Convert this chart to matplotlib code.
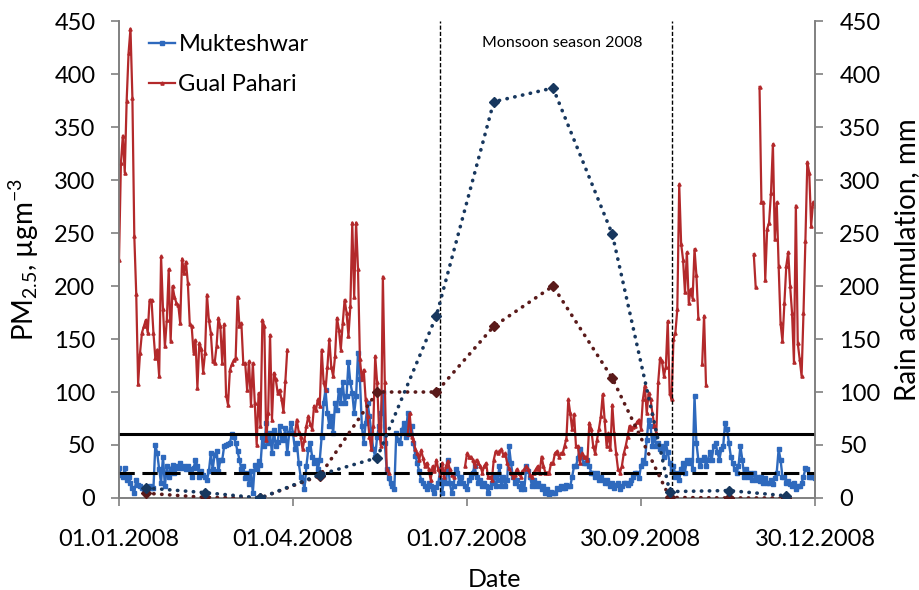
import numpy as np
import pandas as pd
import matplotlib
matplotlib.use("Agg")
import matplotlib.pyplot as plt

nan = np.nan

# daily PM2.5, 01.01.2008 .. 30.12.2008
mukteshwar = [
    28, 22, 20, 28, 17, 20, 14, 9, 5, 17,
    12, 11, 9, 8, 9, 9, 11, 9, 9, 50,
    42, 27, 14, 39, 11, 30, 20, 27, 31, 24,
    30, 28, 33, 28, 30, 27, 30, 27, 20, 28,
    36, 30, 20, 25, 22, 20, 17, 25, 42, 27,
    41, 44, 25, 36, 36, 49, 50, 51, 52, 60,
    58, 52, 44, 36, 27, 30, 19, 24, 13, 25,
    5, 31, 27, 35, 31, 58, 49, 71, 52, 61,
    42, 64, 49, 53, 68, 58, 55, 66, 42, 61,
    71, 61, 46, 52, 33, 20, 17, 8, 30, 46,
    52, 39, 33, 36, 27, 36, 58, 90, 102, 80,
    68, 77, 61, 90, 83, 102, 90, 109, 90, 96,
    128, 109, 99, 80, 96, 137, 112, 68, 52, 71,
    90, 77, 61, 46, 39, 58, 68, 80, 100, 52,
    27, 19, 14, 11, 8, 61, 55, 52, 64, 71,
    58, 80, 60, 68, 52, 40, 33, 25, 17, 14,
    11, 8, 14, 11, 8, 5, 10, 14, 27, 5,
    17, 14, 36, 14, 5, 11, 27, 24, 14, 20,
    14, 11, 8, 17, 20, 24, 30, 20, 14, 17,
    11, 14, 11, 5, 10, 14, 20, 11, 17, 30,
    11, 20, 11, 17, 49, 33, 20, 14, 17, 11,
    8, 14, 8, 30, 25, 20, 11, 17, 11, 14,
    11, 8, 11, 5, 8, 3, 6, 5, 5, 9,
    8, 11, 9, 9, 12, 11, 11, 20, 30, 30,
    38, 46, 39, 33, 33, 36, 30, 24, 24, 20,
    24, 17, 20, 17, 14, 17, 14, 11, 14, 9,
    12, 14, 8, 11, 14, 14, 12, 14, 17, 20,
    24, 24, 19, 30, 36, 33, 55, 74, 68, 49,
    58, 49, 52, 46, 49, 39, 52, 43, 33, 27,
    30, 20, 24, 17, 27, 33, 24, 36, 33, 36,
    27, 96, 52, 36, 30, 36, 39, 30, 36, 43,
    36, 49, 52, 43, 36, 46, 49, 71, 65, 52,
    39, 33, 27, 24, 30, 49, 36, 20, 27, 20,
    24, 17, 24, 17, 20, 16, 20, 14, 19, 14,
    14, 17, 13, 19, 24, 46, 36, 20, 20, 14,
    16, 13, 11, 14, 8, 11, 11, 14, 20, 28,
    27, 20, 20, 20, 19,
]

gual_pahari = [
    225, 316, 342, 307, 375, 420, 443, 378, 247, 193,
    108, 137, 156, 162, 168, 156, 187, 187, 156, 132,
    140, 115, 228, 178, 143, 168, 216, 148, 200, 190,
    184, 182, 165, 226, 212, 223, 203, 164, 162, 137,
    149, 104, 146, 141, 119, 137, 192, 168, 156, 129,
    127, 143, 170, 162, 127, 164, 97, 88, 121, 126,
    130, 132, 190, 162, 165, 127, 127, 102, 129, 88,
    127, 90, 50, 99, 68, 168, 162, 55, 80, 154,
    74, 118, 112, 99, 102, 93, 82, 110, 140, nan,
    nan, nan, 60, 74, 62, 58, 46, 55, 68, 77,
    70, 65, 87, 83, 93, 87, 140, 109, 102, 124,
    150, 124, 115, 134, 170, 159, 140, 165, 187, 175,
    153, 181, 260, 190, 260, 216, 131, 112, 121, 93,
    77, 58, 46, 68, 134, 109, 65, 49, 209, 109,
    27, 24, nan, nan, nan, nan, nan, nan, nan, nan,
    nan, 60, 80, 58, 55, 46, 42, 36, 45, 38,
    30, 33, 27, 17, 30, 25, 36, 27, 22, 33,
    20, 30, 35, 27, 22, 20, nan, nan, nan, nan,
    nan, 30, 42, 39, 39, 36, 30, 36, 33, 30,
    24, 30, 33, 20, 20, 17, 36, 44, 42, 44,
    46, 41, 42, 33, 28, 24, 20, 22, 27, 24,
    20, 25, 27, 30, 27, 22, 20, 24, 27, 30,
    24, 39, 30, 24, 24, 24, 33, 33, 42, 44,
    39, 42, 42, 49, 56, 93, 80, 65, 79, 49,
    49, 33, 42, 39, 39, 36, 71, 65, 49, 42,
    55, 65, 77, 98, 74, 49, 61, 46, 88, 61,
    42, 27, 24, 30, 42, 49, 58, 68, 65, 67,
    68, 72, 74, 65, 93, 106, 80, 99, 93, 80,
    68, 61, 109, 132, 129, 115, 124, 167, 99, 93,
    150, 156, 178, 296, 240, 225, 194, 232, 184, 197,
    188, 235, 210, 170, nan, 126, 172, 107, nan, nan,
    nan, nan, nan, nan, nan, nan, nan, nan, nan, nan,
    nan, nan, nan, nan, nan, nan, nan, nan, nan, nan,
    nan, nan, 230, 199, nan, 388, 279, 279, 206, 254,
    260, 288, 334, 244, 279, 219, 165, 148, 184, 219,
    232, 200, 175, 128, 276, 146, 131, 115, 175, 243,
    317, 307, 257, 279, 276,
]

# monthly rain accumulation (mm), plotted at mid-month
rain_months = ["2008-01-15", "2008-02-15", "2008-03-15", "2008-04-15",
               "2008-05-15", "2008-06-15", "2008-07-15", "2008-08-15",
               "2008-09-15", "2008-10-15", "2008-11-15", "2008-12-15"]
rain_mukteshwar = [9.5, 5, 0, 22, 38, 172, 374, 387, 249, 6, 7, 2]
rain_gual_pahari = [4.5, 0.5, 0, 21, 100, 100, 162, 200, 113, 0.5, 0, 0]

limit_india = 60
limit_who = 24
monsoon = ["2008-06-17", "2008-10-16"]

tick_dates = ["2008-01-01", "2008-04-01", "2008-07-01", "2008-09-30", "2008-12-30"]
tick_labels = ["01.01.2008", "01.04.2008", "01.07.2008", "30.09.2008", "30.12.2008"]

days = pd.date_range("2008-01-01", periods=len(mukteshwar), freq="D")
rain_x = pd.to_datetime(rain_months)

plt.rcParams["font.family"] = ["Lato", "DejaVu Sans"]
plt.rcParams["mathtext.fontset"] = "custom"
plt.rcParams["mathtext.rm"] = "Lato"
plt.rcParams["mathtext.it"] = "Lato:italic"
plt.rcParams["mathtext.bf"] = "Lato:bold"

fig = plt.figure(figsize=(9.19, 5.90), dpi=100)
ax = fig.add_axes([0.1295, 0.156, 0.7573, 0.808])
ax2 = ax.twinx()

blue = "#2e69bd"
red = "#b3292b"
navy = "#17375e"
maroon = "#5a1a1a"

ax.plot(days, mukteshwar, color=blue, lw=1.7, marker="s", ms=2.3,
        label="Mukteshwar", zorder=2)
ax.plot(days, gual_pahari, color=red, lw=1.6, marker="^", ms=2.3,
        label="Gual Pahari", zorder=3)

ax2.plot(rain_x, rain_mukteshwar, color=navy, lw=2.6, ls=(0, (0.1, 2.1)),
         dash_capstyle="round", marker="D", ms=5.5, zorder=4)
ax2.plot(rain_x, rain_gual_pahari, color=maroon, lw=2.6, ls=(0, (0.1, 2.1)),
         dash_capstyle="round", marker="D", ms=5.5, zorder=3)

ax.axhline(limit_india, color="black", lw=2.2, zorder=5)
ax.axhline(limit_who, color="black", lw=2.2, ls=(0, (5, 2.5)), zorder=5)
for d in monsoon:
    ax.axvline(pd.Timestamp(d), color="black", lw=1.0, ls=(0, (3, 1.5)), zorder=5)

ax.text(pd.Timestamp("2008-08-20"), 429, "Monsoon season 2008",
        ha="center", va="center", fontsize=11.5)

ax.set_xlim(pd.Timestamp("2008-01-01"), pd.Timestamp("2008-12-30"))
for a in (ax, ax2):
    a.set_ylim(0, 450)
    a.set_yticks(range(0, 451, 50))
    a.spines["top"].set_visible(False)
    for s in ("left", "right", "bottom"):
        a.spines[s].set_color("#808080")
        a.spines[s].set_linewidth(1.2)

ax.set_xticks(pd.to_datetime(tick_dates))
ax.set_xticklabels(tick_labels)
ax.tick_params(axis="x", direction="out", length=6, width=1.2, color="#808080",
               labelsize=17, pad=16)
ax.tick_params(axis="y", direction="out", length=6, width=1.2, color="#808080",
               labelsize=17, pad=11)
ax2.tick_params(axis="y", direction="out", length=6, width=1.2, color="#808080",
                labelsize=17, pad=11.5)

ax.set_ylabel("PM$_{2.5}$, µgm$^{-3}$", fontsize=20)
ax2.set_ylabel("Rain accumulation, mm", fontsize=20)
ax.set_xlabel("Date", fontsize=18)
ax.yaxis.set_label_coords(-0.112, 0.5)
ax2.yaxis.set_label_coords(1.1135, 0.5)
ax.xaxis.set_label_coords(0.54, -0.147)

ax.legend(loc="upper left", bbox_to_anchor=(0.043, 0.973), frameon=False,
          fontsize=17, handlelength=1.1, handletextpad=0.15, labelspacing=0.8,
          borderaxespad=0, borderpad=0)

fig.savefig("out.png", dpi=100)
